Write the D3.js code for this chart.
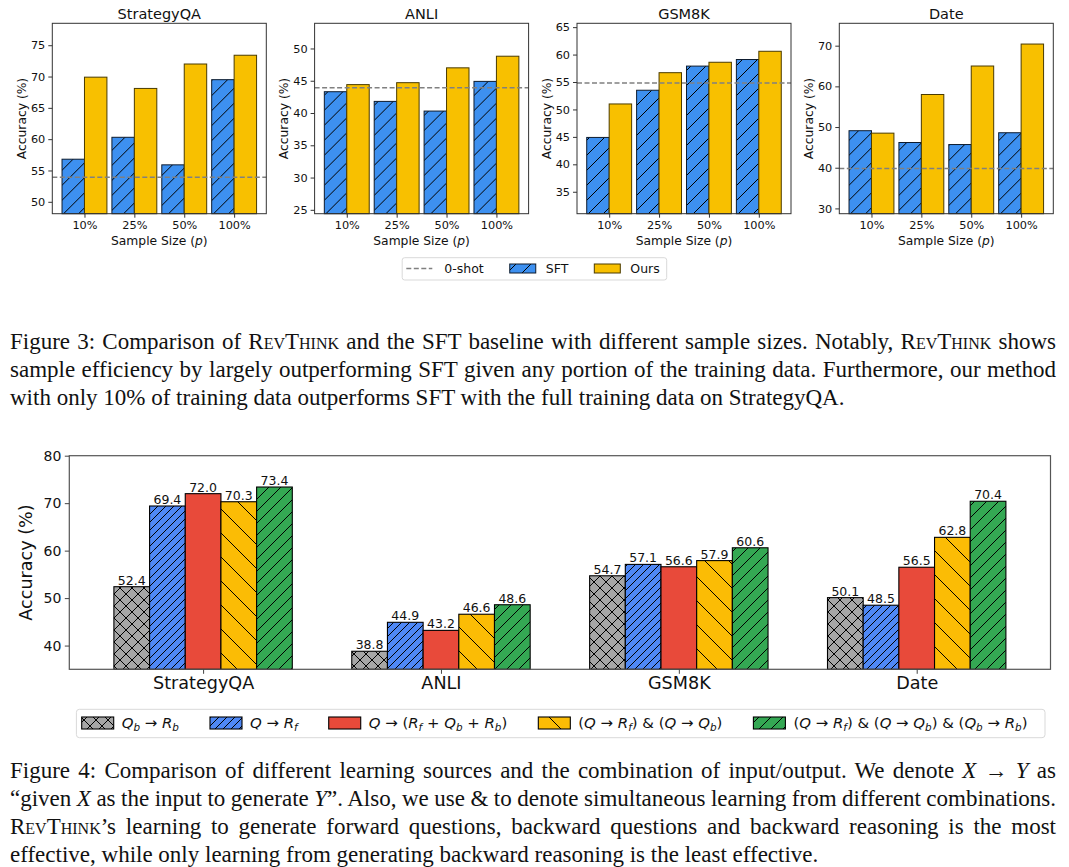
<!DOCTYPE html>
<html>
<head>
<meta charset="utf-8">
<script src="https://cdn.jsdelivr.net/npm/d3@7"></script>
<style>
  body { margin: 0; background: #fff; }
  #wrap { position: relative; width: 1069px; height: 867px; overflow: hidden; }
  svg { position: absolute; left: 0; top: 0; font-family: "DejaVu Sans", sans-serif; }
  .cap { position: absolute; left: 10px; width: 1046px; height: 28px; line-height: 28px;
         font-family: "Liberation Serif", "Times New Roman", serif; font-size: 23px; color: #111; }
  .cap span.ln { white-space: nowrap; }
  .sc { font-variant: small-caps; }
</style>
</head>
<body>
<div id="wrap"></div>
<script>
// ---- Figure 3 data ----
const topDatasets = ["StrategyQA", "ANLI", "GSM8K", "Date"];
const sampleSizes = ["10%", "25%", "50%", "100%"];
const sftAcc = [
  [56.8, 60.3, 55.9, 69.5],
  [43.3, 41.8, 40.3, 44.9],
  [44.9, 53.5, 57.9, 59.1],
  [49.1, 46.2, 45.7, 48.6]
];
const oursAcc = [
  [69.9, 68.1, 72.0, 73.4],
  [44.4, 44.7, 47.0, 48.8],
  [51.0, 56.7, 58.6, 60.6],
  [48.5, 58.0, 65.0, 70.4]
];
const zeroShot = [53.9, 43.9, 54.8, 39.8];
const topYDomains = [[48.1, 78.5], [24.4, 53.9], [31.0, 65.7], [28.7, 75.5]];
const topYTicks = [
  [50, 55, 60, 65, 70, 75],
  [25, 30, 35, 40, 45, 50],
  [35, 40, 45, 50, 55, 60, 65],
  [30, 40, 50, 60, 70]
];
const topLegend = ["0-shot", "SFT", "Ours"];

// ---- Figure 4 data ----
const sources = ["StrategyQA", "ANLI", "GSM8K", "Date"];
const combos = [
  "Q_b → R_b",
  "Q → R_f",
  "Q → (R_f + Q_b + R_b)",
  "(Q → R_f) & (Q → Q_b)",
  "(Q → R_f) & (Q → Q_b) & (Q_b → R_b)"
];
const comboAcc = [
  [52.4, 69.4, 72.0, 70.3, 73.4],
  [38.8, 44.9, 43.2, 46.6, 48.6],
  [54.7, 57.1, 56.6, 57.9, 60.6],
  [50.1, 48.5, 56.5, 62.8, 70.4]
];
const bottomYTicks = [40, 50, 60, 70, 80];

// ---- captions ----
const caption3 = [
  'Figure 3: Comparison of <span class="sc">RevThink</span> and the SFT baseline with different sample sizes. Notably, <span class="sc">RevThink</span> shows',
  'sample efficiency by largely outperforming SFT given any portion of the training data. Furthermore, our method',
  'with only 10% of training data outperforms SFT with the full training data on StrategyQA.'
];
const caption4 = [
  'Figure 4: Comparison of different learning sources and the combination of input/output. We denote <i>X</i> → <i>Y</i> as',
  '“given <i>X</i> as the input to generate <i>Y</i>”. Also, we use &amp; to denote simultaneous learning from different combinations.',
  '<span class="sc">RevThink</span>’s learning to generate forward questions, backward questions and backward reasoning is the most',
  'effective, while only learning from generating backward reasoning is the least effective.'
];

const SFT_COLOR = "#3d90f0";
const OURS_COLOR = "#f8c000";
const comboColors = ["#a6a6a6", "#4f88f5", "#e84a3a", "#fbbc05", "#34a853"];
const comboHatch = ["x", "/", null, "\\", "/"];
const comboHatchSize = [12, 8, 0, 24, 12];

const wrap = d3.select("#wrap");
const svg = wrap.append("svg").attr("width", 1069).attr("height", 867);
const defs = svg.append("defs");

function hatch(id, color, kind, p) {
  const pat = defs.append("pattern").attr("id", id)
    .attr("patternUnits", "userSpaceOnUse").attr("width", p).attr("height", p);
  pat.append("rect").attr("width", p).attr("height", p).attr("fill", color);
  let d = "";
  if (kind === "/" || kind === "x") d += `M-1,1 l2,-2 M0,${p} l${p},${-p} M${p - 1},${p + 1} l2,-2 `;
  if (kind === "\\" || kind === "x") d += `M-1,${p - 1} l2,2 M0,0 l${p},${p} M${p - 1},-1 l2,2`;
  pat.append("path").attr("d", d).attr("stroke", "#000").attr("stroke-width", 1).attr("fill", "none");
  return `url(#${id})`;
}

const sftFill = hatch("h-sft", SFT_COLOR, "/", 15);
const comboFills = comboColors.map((c, i) =>
  comboHatch[i] ? hatch("h-c" + i, c, comboHatch[i], comboHatchSize[i]) : c);

// math-ish label: letters italic, _x subscript
function mathLabel(text, str, size) {
  let cur = 0;
  const piece = (s, o) => {
    const d = o.sub ? size * 0.22 : 0;
    const t = text.append("tspan").text(s).attr("dy", d - cur);
    cur = d;
    if (o.it) t.attr("font-style", "italic");
    if (o.sub) t.attr("font-size", size * 0.7);
  };
  let buf = "";
  for (let i = 0; i < str.length; i++) {
    const c = str[i];
    if (c === "_") { if (buf) piece(buf, {}); buf = ""; piece(str[++i], { it: true, sub: true }); }
    else if (/[A-Za-z]/.test(c)) { if (buf) piece(buf, {}); buf = ""; piece(c, { it: true }); }
    else buf += c;
  }
  if (buf) piece(buf, {});
}

function styleAxis(g, size, color) {
  g.select(".domain").remove();
  g.selectAll(".tick line").attr("stroke", color);
  g.selectAll(".tick text").attr("font-size", size).attr("fill", "#111")
    .attr("font-family", "DejaVu Sans");
}

// ================= Figure 3 =================
const panelLeft = [52.3, 314.6, 577.0, 839.3];
const PW = 214, TY0 = 23.3, TY1 = 213.7;

topDatasets.forEach((name, k) => {
  const g = svg.append("g").attr("transform", `translate(${panelLeft[k]},0)`);
  const x = d3.scaleLinear().domain([-0.645, 3.645]).range([0, PW]);
  const y = d3.scaleLinear().domain(topYDomains[k]).range([TY1, TY0]);
  const bw = x(0.45) - x(0);

  g.selectAll("rect.sft").data(sftAcc[k]).join("rect").attr("class", "sft")
    .attr("x", (d, i) => x(i - 0.45)).attr("width", bw)
    .attr("y", d => y(d)).attr("height", d => y(topYDomains[k][0]) - y(d))
    .attr("fill", sftFill).attr("stroke", "#0d1b2e").attr("stroke-width", 1);

  g.selectAll("rect.ours").data(oursAcc[k]).join("rect").attr("class", "ours")
    .attr("x", (d, i) => x(i)).attr("width", bw)
    .attr("y", d => y(d)).attr("height", d => y(topYDomains[k][0]) - y(d))
    .attr("fill", OURS_COLOR).attr("stroke", "#4a3b00").attr("stroke-width", 1);

  g.append("line").attr("x1", 0).attr("x2", PW)
    .attr("y1", y(zeroShot[k])).attr("y2", y(zeroShot[k]))
    .attr("stroke", "#808080").attr("stroke-width", 1.5).attr("stroke-dasharray", "5,2.5");

  g.append("rect").attr("x", 0).attr("y", TY0).attr("width", PW).attr("height", TY1 - TY0)
    .attr("fill", "none").attr("stroke", "#333").attr("stroke-width", 1);

  const ya = g.append("g").call(d3.axisLeft(y).tickValues(topYTicks[k]).tickSize(4).tickPadding(3));
  styleAxis(ya, 11.3, "#333");
  const xa = g.append("g").attr("transform", `translate(0,${TY1})`)
    .call(d3.axisBottom(x).tickValues([0, 1, 2, 3]).tickFormat(i => sampleSizes[i]).tickSize(4).tickPadding(3));
  styleAxis(xa, 11.3, "#333");

  g.append("text").attr("x", PW / 2).attr("y", 18.5).attr("text-anchor", "middle")
    .attr("font-size", 14.5).attr("fill", "#111").text(name);

  g.append("text").attr("transform", `translate(-26.5,${(TY0 + TY1) / 2}) rotate(-90)`)
    .attr("text-anchor", "middle").attr("font-size", 12.3).attr("fill", "#111").text("Accuracy (%)");

  const xl = g.append("text").attr("x", PW / 2).attr("y", 244.5).attr("text-anchor", "middle")
    .attr("font-size", 12.3).attr("fill", "#111").style("white-space", "pre");
  xl.append("tspan").text("Sample Size (");
  xl.append("tspan").attr("font-style", "italic").text("p");
  xl.append("tspan").text(")");
});

// top legend
(function () {
  const lg = svg.append("g");
  lg.append("rect").attr("x", 402.2).attr("y", 257.7).attr("width", 264.5).attr("height", 22.3)
    .attr("rx", 2.5).attr("fill", "#fff").attr("stroke", "#d9d9d9").attr("stroke-width", 1);
  let cx = 406.3;
  const cy = 268.5;
  topLegend.forEach((lab, i) => {
    if (i === 0) {
      lg.append("line").attr("x1", cx).attr("x2", cx + 26).attr("y1", cy).attr("y2", cy)
        .attr("stroke", "#808080").attr("stroke-width", 1.5).attr("stroke-dasharray", "5,2.5");
    } else {
      lg.append("rect").attr("x", cx).attr("y", cy - 4.5).attr("width", 26).attr("height", 9)
        .attr("fill", i === 1 ? sftFill : OURS_COLOR)
        .attr("stroke", i === 1 ? "#0d1b2e" : "#4a3b00").attr("stroke-width", 1);
    }
    const t = lg.append("text").attr("x", cx + 26 + (i === 0 ? 12 : 10)).attr("y", cy + 4.5)
      .attr("font-size", 12.5).attr("fill", "#111").text(lab);
    cx = cx + 26 + (i === 0 ? 12 : 10) + t.node().getComputedTextLength() + 26;
  });
})();

// ================= Figure 4 =================
(function () {
  const g = svg.append("g");
  const BX0 = 69.3, BX1 = 1050.5, BY0 = 455.7, BY1 = 669.3;
  const x = d3.scaleLinear().domain([-0.5625, 3.5625]).range([BX0, BX1]);
  const y = d3.scaleLinear().domain([35, 80]).range([BY1, BY0]);
  const w = 0.15;
  const bw = x(w) - x(0);

  sources.forEach((s, i) => {
    const grp = g.append("g");
    grp.selectAll("rect").data(comboAcc[i]).join("rect")
      .attr("x", (d, j) => x(i + (j - 2.5) * w)).attr("width", bw)
      .attr("y", d => y(d)).attr("height", d => y(35) - y(d))
      .attr("fill", (d, j) => comboFills[j]).attr("stroke", "#000").attr("stroke-width", 1.1);
    grp.selectAll("text").data(comboAcc[i]).join("text")
      .attr("x", (d, j) => x(i + (j - 2) * w)).attr("y", d => y(d) - 2)
      .attr("text-anchor", "middle").attr("font-size", 12.5).attr("fill", "#111")
      .text(d => d.toFixed(1));
  });

  g.append("rect").attr("x", BX0).attr("y", BY0).attr("width", BX1 - BX0).attr("height", BY1 - BY0)
    .attr("fill", "none").attr("stroke", "#555").attr("stroke-width", 1.2);

  const ya = g.append("g").attr("transform", `translate(${BX0},0)`)
    .call(d3.axisLeft(y).tickValues(bottomYTicks).tickSize(4.5).tickPadding(3.5));
  styleAxis(ya, 14, "#444");
  const xa = g.append("g").attr("transform", `translate(0,${BY1})`)
    .call(d3.axisBottom(x).tickValues([0, 1, 2, 3]).tickFormat(i => sources[i]).tickSize(4.5).tickPadding(3));
  styleAxis(xa, 17.6, "#444");

  g.append("text").attr("transform", `translate(31.5,${(BY0 + BY1) / 2}) rotate(-90)`)
    .attr("text-anchor", "middle").attr("font-size", 17.6).attr("fill", "#111").text("Accuracy (%)");

  // legend
  const lg = svg.append("g");
  lg.append("rect").attr("x", 76.4).attr("y", 709.3).attr("width", 968.6).attr("height", 28.4)
    .attr("rx", 3).attr("fill", "#fff").attr("stroke", "#d9d9d9").attr("stroke-width", 1);
  let cx = 81.7;
  const cy = 723;
  const fs = 14.9;
  combos.forEach((lab, j) => {
    lg.append("rect").attr("x", cx).attr("y", cy - 6).attr("width", 32).attr("height", 12)
      .attr("fill", comboFills[j]).attr("stroke", "#000").attr("stroke-width", 1.1);
    const t = lg.append("text").attr("x", cx + 40).attr("y", cy + 5)
      .attr("font-size", fs).attr("fill", "#111").style("white-space", "pre");
    mathLabel(t, lab, fs);
    cx = cx + 40 + t.node().getComputedTextLength() + 31;
  });
})();

// ================= captions =================
function caption(lines, centers) {
  lines.forEach((html, k) => {
    const div = wrap.append("div").attr("class", "cap").style("top", (centers[k] - 14) + "px");
    div.html(`<span class="ln">${html}</span>`);
    if (k < lines.length - 1) {
      const span = div.select("span").node();
      const wNat = span.getBoundingClientRect().width;
      const n = (span.textContent.match(/ /g) || []).length;
      div.select("span").style("word-spacing", ((1046 - wNat) / n) + "px");
    }
  });
}
caption(caption3, [341.7, 370, 398.3]);
caption(caption4, [770.7, 799.3, 827.3, 855]);
</script>
</body>
</html>
